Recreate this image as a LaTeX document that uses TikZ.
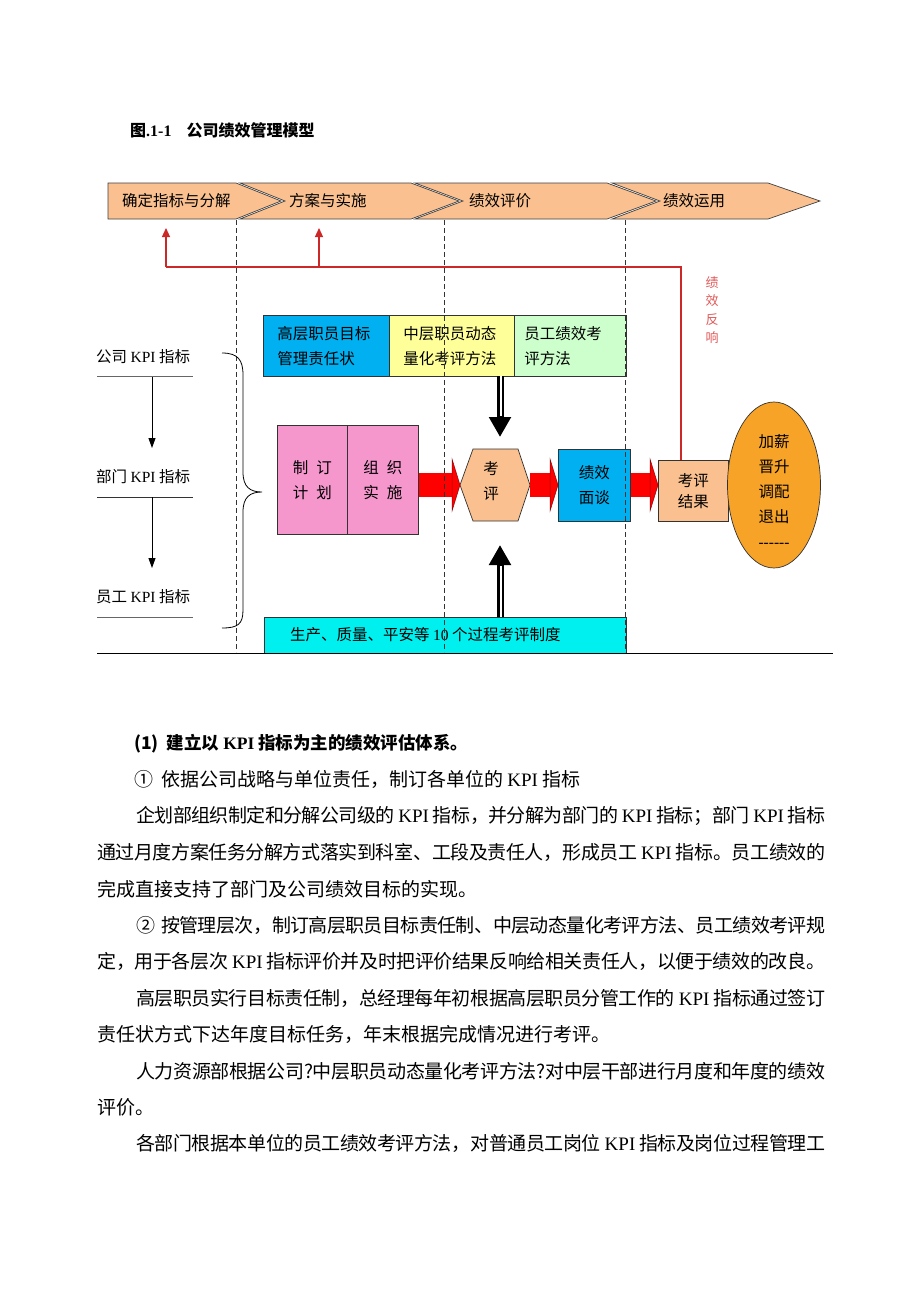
\documentclass[tikz,border=0pt]{standalone}
\usepackage{fontspec}
\setmainfont{Liberation Serif}
\newfontfamily\cjk{Noto Sans CJK SC}
\newfontfamily\cjkls[LetterSpace=12]{Noto Sans CJK SC}
\usetikzlibrary{arrows.meta,calc,shapes.geometric}
\XeTeXlinebreaklocale "zh"
\XeTeXlinebreakskip=0pt plus 2pt minus 2pt
\definecolor{chev}{RGB}{250,192,143}
\definecolor{cyanb}{RGB}{0,176,240}
\definecolor{yel}{RGB}{255,255,153}
\definecolor{grn}{RGB}{204,255,204}
\definecolor{pinkb}{RGB}{245,150,205}
\definecolor{cyanl}{RGB}{0,240,240}
\definecolor{orng}{RGB}{247,163,40}
\definecolor{fbred}{RGB}{205,40,40}
\definecolor{fbtxt}{RGB}{225,90,90}
\newcommand\ffont{\cjk\fontsize{15.5}{25}\selectfont}
\newcommand\bodyfont{\cjk\fontsize{19}{24}\selectfont}
\newcommand\jl[2]{\parbox{#1pt}{\hbadness=10000\parfillskip=0pt\relax #2}}
\newcommand\K{{\rmfamily KPI}}
\newcommand\redarr[2]{%
  \fill[red] ($(#1)+(0,-12)$) rectangle ($(#2)+(-8,12)$);
  \filldraw[fill=red,draw=red!55!black,line width=0.5pt] ($(#2)+(-8,-26)$) -- (#2) -- ($(#2)+(-8,26)$) -- cycle;}
\newcommand\blkarr[2]{%
  \draw[line width=7pt,-{Triangle[width=21pt,length=20pt]}] (#1) -- (#2);
  \draw[white,line width=1.3pt,shorten >=21pt] ($(#1)+(1,0)$) -- ($(#2)+(1,0)$);}
\begin{document}
\begin{tikzpicture}[x=1pt,y=-1pt,
  fig/.style={font=\ffont,inner sep=0pt},
  body/.style={font=\bodyfont,inner sep=0pt,anchor=west},
  chevs/.style={fill=chev,draw=black!75,line width=0.7pt},
  boxf/.style={draw=black!80,line width=0.7pt,inner sep=0pt},
  redline/.style={draw=fbred,line width=1.1pt},
  dashln/.style={draw=black!80,line width=0.8pt,dash pattern=on 5pt off 3pt},
  kpi/.style={font=\ffont,inner sep=0pt,anchor=west}]
\useasboundingbox[fill=white] (0,0) rectangle (920,1302);

% title
\node[anchor=west,inner sep=0pt,font=\fontsize{16}{19}\selectfont] (title) at (130,130)
  {{\cjk\bfseries 图}{\bfseries .1-1}\hspace{15pt}{\cjk\bfseries 公司绩效管理模型}};

% chevrons
\filldraw[chevs] (108,183) -- (236,183) -- (281,201) -- (236,219) -- (108,219) -- cycle;
\filldraw[chevs] (240,183) -- (411,183) -- (459,201) -- (411,219) -- (240,219) -- (285,201) -- cycle;
\filldraw[chevs] (415,183) -- (607,183) -- (656,201) -- (607,219) -- (415,219) -- (463,201) -- cycle;
\filldraw[chevs] (612,183) -- (768,183) -- (820,201) -- (768,219) -- (612,219) -- (660,201) -- cycle;
\node[fig,anchor=west] (c1) at (122,201) {确定指标与分解};
\node[fig,anchor=west] (c2) at (289,201) {方案与实施};
\node[fig,anchor=west] (c3) at (469,201) {绩效评价};
\node[fig,anchor=west] (c4) at (663,201) {绩效运用};

% top boxes
\node[boxf,fill=cyanb,anchor=north west,minimum width=126pt,minimum height=61pt,text width=98pt,inner xsep=14pt,align=left,font=\ffont] (b1) at (263,315) {高层职员目标\\管理责任状};
\node[boxf,fill=yel,anchor=north west,minimum width=125pt,minimum height=61pt,text width=97pt,inner xsep=14pt,align=left,font=\ffont] (b2) at (389,315) {中层职员动态\\量化考评方法};
\node[boxf,fill=grn,anchor=north west,minimum width=112pt,minimum height=61pt,text width=92pt,inner xsep=10pt,align=left,font=\cjkls\fontsize{15.5}{25}\selectfont] (b3) at (514,315) {员工绩效考\\评方法};

% pink boxes
\node[boxf,fill=pinkb,anchor=north west,minimum width=70pt,minimum height=109pt,align=center,font=\ffont] (plan) at (277,425) {制\hspace{8pt}订\\计\hspace{8pt}划};
\node[boxf,fill=pinkb,anchor=north west,minimum width=71pt,minimum height=109pt,align=center,font=\ffont] (impl) at (347,425) {组\hspace{8pt}织\\实\hspace{8pt}施};

% hexagon
\filldraw[fill=chev,draw=black!80,line width=0.7pt] (460,485) -- (473,449) -- (518,449) -- (530,485) -- (518,521) -- (473,521) -- cycle;
\coordinate (hexW) at (460,485);
\node[fig,align=center] (hex) at (491,481) {考\\评};

% interview box
\node[boxf,fill=cyanb,anchor=north west,minimum width=72pt,minimum height=72pt,align=center,font=\ffont] (talk) at (558,449) {绩效\\面谈};
% result
\node[boxf,fill=chev,anchor=north west,minimum width=70pt,minimum height=61pt,align=center,font=\fontsize{15.5}{21}\selectfont\cjk] (res) at (658,460) {考评\\结果};
% ellipse
\node[ellipse,draw=black!80,line width=0.7pt,fill=orng,minimum width=93pt,minimum height=166pt,inner sep=0pt] (ell) at (774,485) {};
\node[fig,align=center] (elltext) at (774,491) {加薪\\晋升\\调配\\退出\\{\rmfamily -{}-{}-{}-{}-{}-}};

% red block arrows
\coordinate (r1s) at (impl.east |- hexW);
\redarr{r1s}{hexW}
\coordinate (r2s) at (530,485);
\coordinate (r2e) at (talk.west |- hexW);
\redarr{r2s}{r2e}
\coordinate (r3s) at (talk.east |- hexW);
\coordinate (r3e) at (res.west |- hexW);
\redarr{r3s}{r3e}

% bottom box
\node[boxf,fill=cyanl,anchor=north west,minimum width=362pt,minimum height=36pt,font=\ffont] (bot) at (264,617) {};
\node[fig,anchor=west] (bottext) at (290,635) {生产、质量、平安等 {\rmfamily 10} 个过程考评制度};

% black arrows
\coordinate (dA) at (500,376);
\coordinate (dB) at (500,437);
\blkarr{dA}{dB}
\coordinate (uA) at (500,617);
\coordinate (uB) at (500,545);
\blkarr{uA}{uB}

% dashed lines
\draw[dashln] (236,220) -- (236,652);
\draw[dashln] (444,220) -- (444,652);
\draw[dashln] (625,220) -- (625,652);

% baseline
\draw[line width=0.9pt] (97,653) -- (833,653);

% feedback
\coordinate (fb) at (681,267);
\coordinate (fa1) at (166,267);
\coordinate (fa2) at (319,267);
\coordinate (ft1) at (166,228);
\coordinate (ft2) at (319,228);
\draw[redline] (res.north -| fb) -- (fb) -- (fa1);
\draw[redline,-{Triangle[width=8pt,length=9pt]}] (fa1) -- (ft1);
\draw[redline,-{Triangle[width=8pt,length=9pt]}] (fa2) -- (ft2);
\node[inner sep=0pt,align=center,text=fbtxt,font=\cjk\fontsize{13}{18.3}\selectfont] (fbl) at (712,310) {绩\\效\\反\\响};

% left KPI column
\node[kpi] (k1) at (96,357) {公司 \K\ 指标};
\node[kpi] (k2) at (96,477) {部门 \K\ 指标};
\node[kpi] (k3) at (96,597) {员工 \K\ 指标};
\draw[black!60,line width=0.6pt] (97,376) -- (193,376);
\draw[black!80,line width=0.8pt] (97,497) -- (193,497);
\draw[black!60,line width=0.6pt] (97,617) -- (193,617);
\coordinate (a1s) at (152,377);
\coordinate (a1e) at (152,448);
\coordinate (a2s) at (152,497);
\coordinate (a2e) at (152,568);
\draw[line width=0.9pt,-{Triangle[width=7pt,length=10pt]}] (a1s) -- (a1e);
\draw[line width=0.9pt,-{Triangle[width=7pt,length=10pt]}] (a2s) -- (a2e);
% brace
\draw[line width=0.8pt] (222,353) .. controls (238,353) and (243,360) .. (243,375) -- (243,472) .. controls (243,487) and (250,492) .. (262,492) .. controls (250,492) and (243,497) .. (243,512) -- (243,610) .. controls (243,624) and (238,628) .. (222,628);

% body text
\node[body,font=\cjk\fontsize{17.5}{22}\selectfont] (l1) at (134,743.5) {{\bfseries (1)}\hspace{8pt}{\bfseries 建立以 {\rmfamily KPI} 指标为主的绩效评估体系。}};
\node[body] (l2) at (134,779.9) {①\hspace{8pt}依据公司战略与单位责任，制订各单位的 \K\ 指标};
\node[body] (l3) at (136,816.3) {\jl{689}{企划部组织制定和分解公司级的 \K\ 指标，并分解为部门的 \K\ 指标；部门 \K\ 指标}};
\node[body] (l4) at (97,852.7) {\jl{728}{通过月度方案任务分解方式落实到科室、工段及责任人，形成员工 \K\ 指标。员工绩效的}};
\node[body] (l5) at (97,889.1) {完成直接支持了部门及公司绩效目标的实现。};
\node[body] (l6) at (136,925.5) {\jl{689}{②\hspace{6pt}按管理层次，制订高层职员目标责任制、中层动态量化考评方法、员工绩效考评规}};
\node[body] (l7) at (97,961.9) {\jl{728}{定，用于各层次 \K\ 指标评价并及时把评价结果反响给相关责任人，以便于绩效的改良。}};
\node[body] (l8) at (136,998.3) {\jl{689}{高层职员实行目标责任制，总经理每年初根据高层职员分管工作的 \K\ 指标通过签订}};
\node[body] (l9) at (97,1034.7) {责任状方式下达年度目标任务，年末根据完成情况进行考评。};
\node[body] (l10) at (136,1071.1) {\jl{689}{人力资源部根据公司?中层职员动态量化考评方法?对中层干部进行月度和年度的绩效}};
\node[body] (l11) at (97,1107.5) {评价。};
\node[body] (l12) at (136,1143.9) {\jl{689}{各部门根据本单位的员工绩效考评方法，对普通员工岗位 \K\ 指标及岗位过程管理工}};
\end{tikzpicture}
\end{document}
